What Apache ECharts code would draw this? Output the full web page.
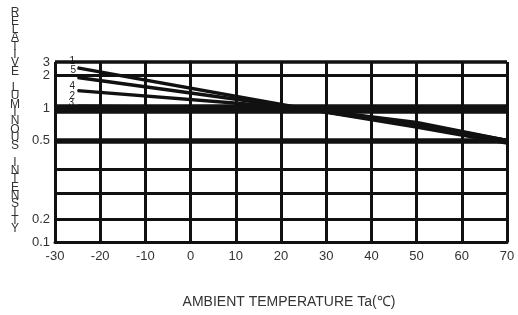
<!DOCTYPE html>
<html>
<head>
<meta charset="utf-8">
<script src="https://cdn.jsdelivr.net/npm/echarts@6/dist/echarts.min.js"></script>
<style>
  html, body { margin: 0; padding: 0; background: #fff; }
  #chart { width: 518px; height: 315px; }
</style>
</head>
<body>
<div id="chart"></div>
<script>
// ambient temperature (°C) where each curve was read
var temps = [-25, 25, 50, 70];

// relative luminous intensity, one list per curve
var curve1 = [2.5, 1.0, 0.67, 0.49];
var curve5 = [1.9, 1.0, 0.70, 0.495];
var curve4 = [1.45, 1.0, 0.74, 0.5];
var curve2 = [1.05, 1.0, 0.72, 0.5];
var curve3 = [1.0, 1.0, 0.69, 0.5];

var curveNames = ['1', '5', '4', '2', '3'];
var curves = [curve1, curve5, curve4, curve2, curve3];

// y tick values and the labels printed at them
var yTicks = [0.1, 0.2, 0.3, 0.4, 0.5, 1, 2, 3];
var yTickLabels = ['0.1', '0.2', '', '', '0.5', '1', '2', '3'];

// the printed y scale is hand drawn: each tick sits at its own spot on a 0..7 axis,
// values in between are placed logarithmically
var yStops = [0, 0.894, 1.906, 2.82, 3.95, 5.19, 6.49, 7];
var yLineWidth = [3, 3, 3, 3, 5.5, 9.5, 3, 3.5];

function warp(v) {
    var i = 0;
    while (i < yTicks.length - 2 && v > yTicks[i + 1]) i++;
    var a = Math.log(yTicks[i]), b = Math.log(yTicks[i + 1]);
    return yStops[i] + (Math.log(v) - a) / (b - a) * (yStops[i + 1] - yStops[i]);
}

var labelOffsets = [[3, -7], [4, -7], [3, -4], [3, -10], [2, -5]];

var chart = echarts.init(document.getElementById('chart'));

var series = curves.map(function (vals, k) {
    return {
        name: curveNames[k],
        type: 'line',
        symbol: 'circle',
        symbolSize: 1,
        showSymbol: true,
        lineStyle: { color: '#111', width: 3.5 },
        itemStyle: { color: '#111' },
        z: 3,
        data: vals.map(function (v, j) {
            var item = { value: [temps[j], warp(v)] };
            if (j === 0) {
                item.label = {
                    show: true,
                    formatter: curveNames[k],
                    position: 'left',
                    distance: 5,
                    offset: labelOffsets[k],
                    fontSize: 10,
                    color: '#222',
                    fontFamily: 'Liberation Sans'
                };
            }
            return item;
        })
    };
});

series.push({
    type: 'line',
    data: [],
    silent: true,
    markLine: {
        silent: true,
        symbol: ['none', 'none'],
        animation: false,
        data: yTicks.map(function (t, i) {
            return {
                yAxis: yStops[i],
                lineStyle: { color: '#111', width: yLineWidth[i], type: 'solid' },
                label: {
                    show: yTickLabels[i] !== '',
                    position: 'start',
                    distance: 5,
                    formatter: yTickLabels[i],
                    color: '#333',
                    fontSize: 13,
                    fontFamily: 'Liberation Sans'
                }
            };
        })
    }
});

var yTitle = 'RELATIVE LUMINOUS INTENSITY'.split('').join('\n');

var option = {
    animation: false,
    backgroundColor: '#fff',
    grid: { left: 55, right: 11, top: 62, bottom: 73 },
    xAxis: {
        type: 'value',
        min: -30,
        max: 70,
        interval: 10,
        axisLine: { show: true, onZero: false, lineStyle: { color: '#111', width: 3 } },
        axisTick: { show: false },
        axisLabel: { margin: 8, color: '#333', fontSize: 13, fontFamily: 'Liberation Sans' },
        splitLine: { show: true, lineStyle: { color: '#111', width: 3 } }
    },
    yAxis: {
        type: 'value',
        min: 0,
        max: 7,
        axisLine: { show: true, lineStyle: { color: '#111', width: 3 } },
        axisTick: { show: false },
        axisLabel: { show: false },
        splitLine: { show: false }
    },
    graphic: [
        {
            type: 'text',
            x: 15,
            y: 9,
            style: {
                text: yTitle,
                fontSize: 12,
                lineHeight: 8.3,
                fontFamily: 'Liberation Sans',
                fill: '#333',
                align: 'center',
                verticalAlign: 'top'
            }
        },
        {
            type: 'text',
            x: 289,
            y: 302,
            style: {
                text: 'AMBIENT TEMPERATURE Ta(\u2103)',
                fontSize: 14,
                fontFamily: 'Liberation Sans',
                fill: '#333',
                align: 'center',
                verticalAlign: 'middle'
            }
        }
    ],
    series: series
};

chart.setOption(option);
</script>
</body>
</html>
